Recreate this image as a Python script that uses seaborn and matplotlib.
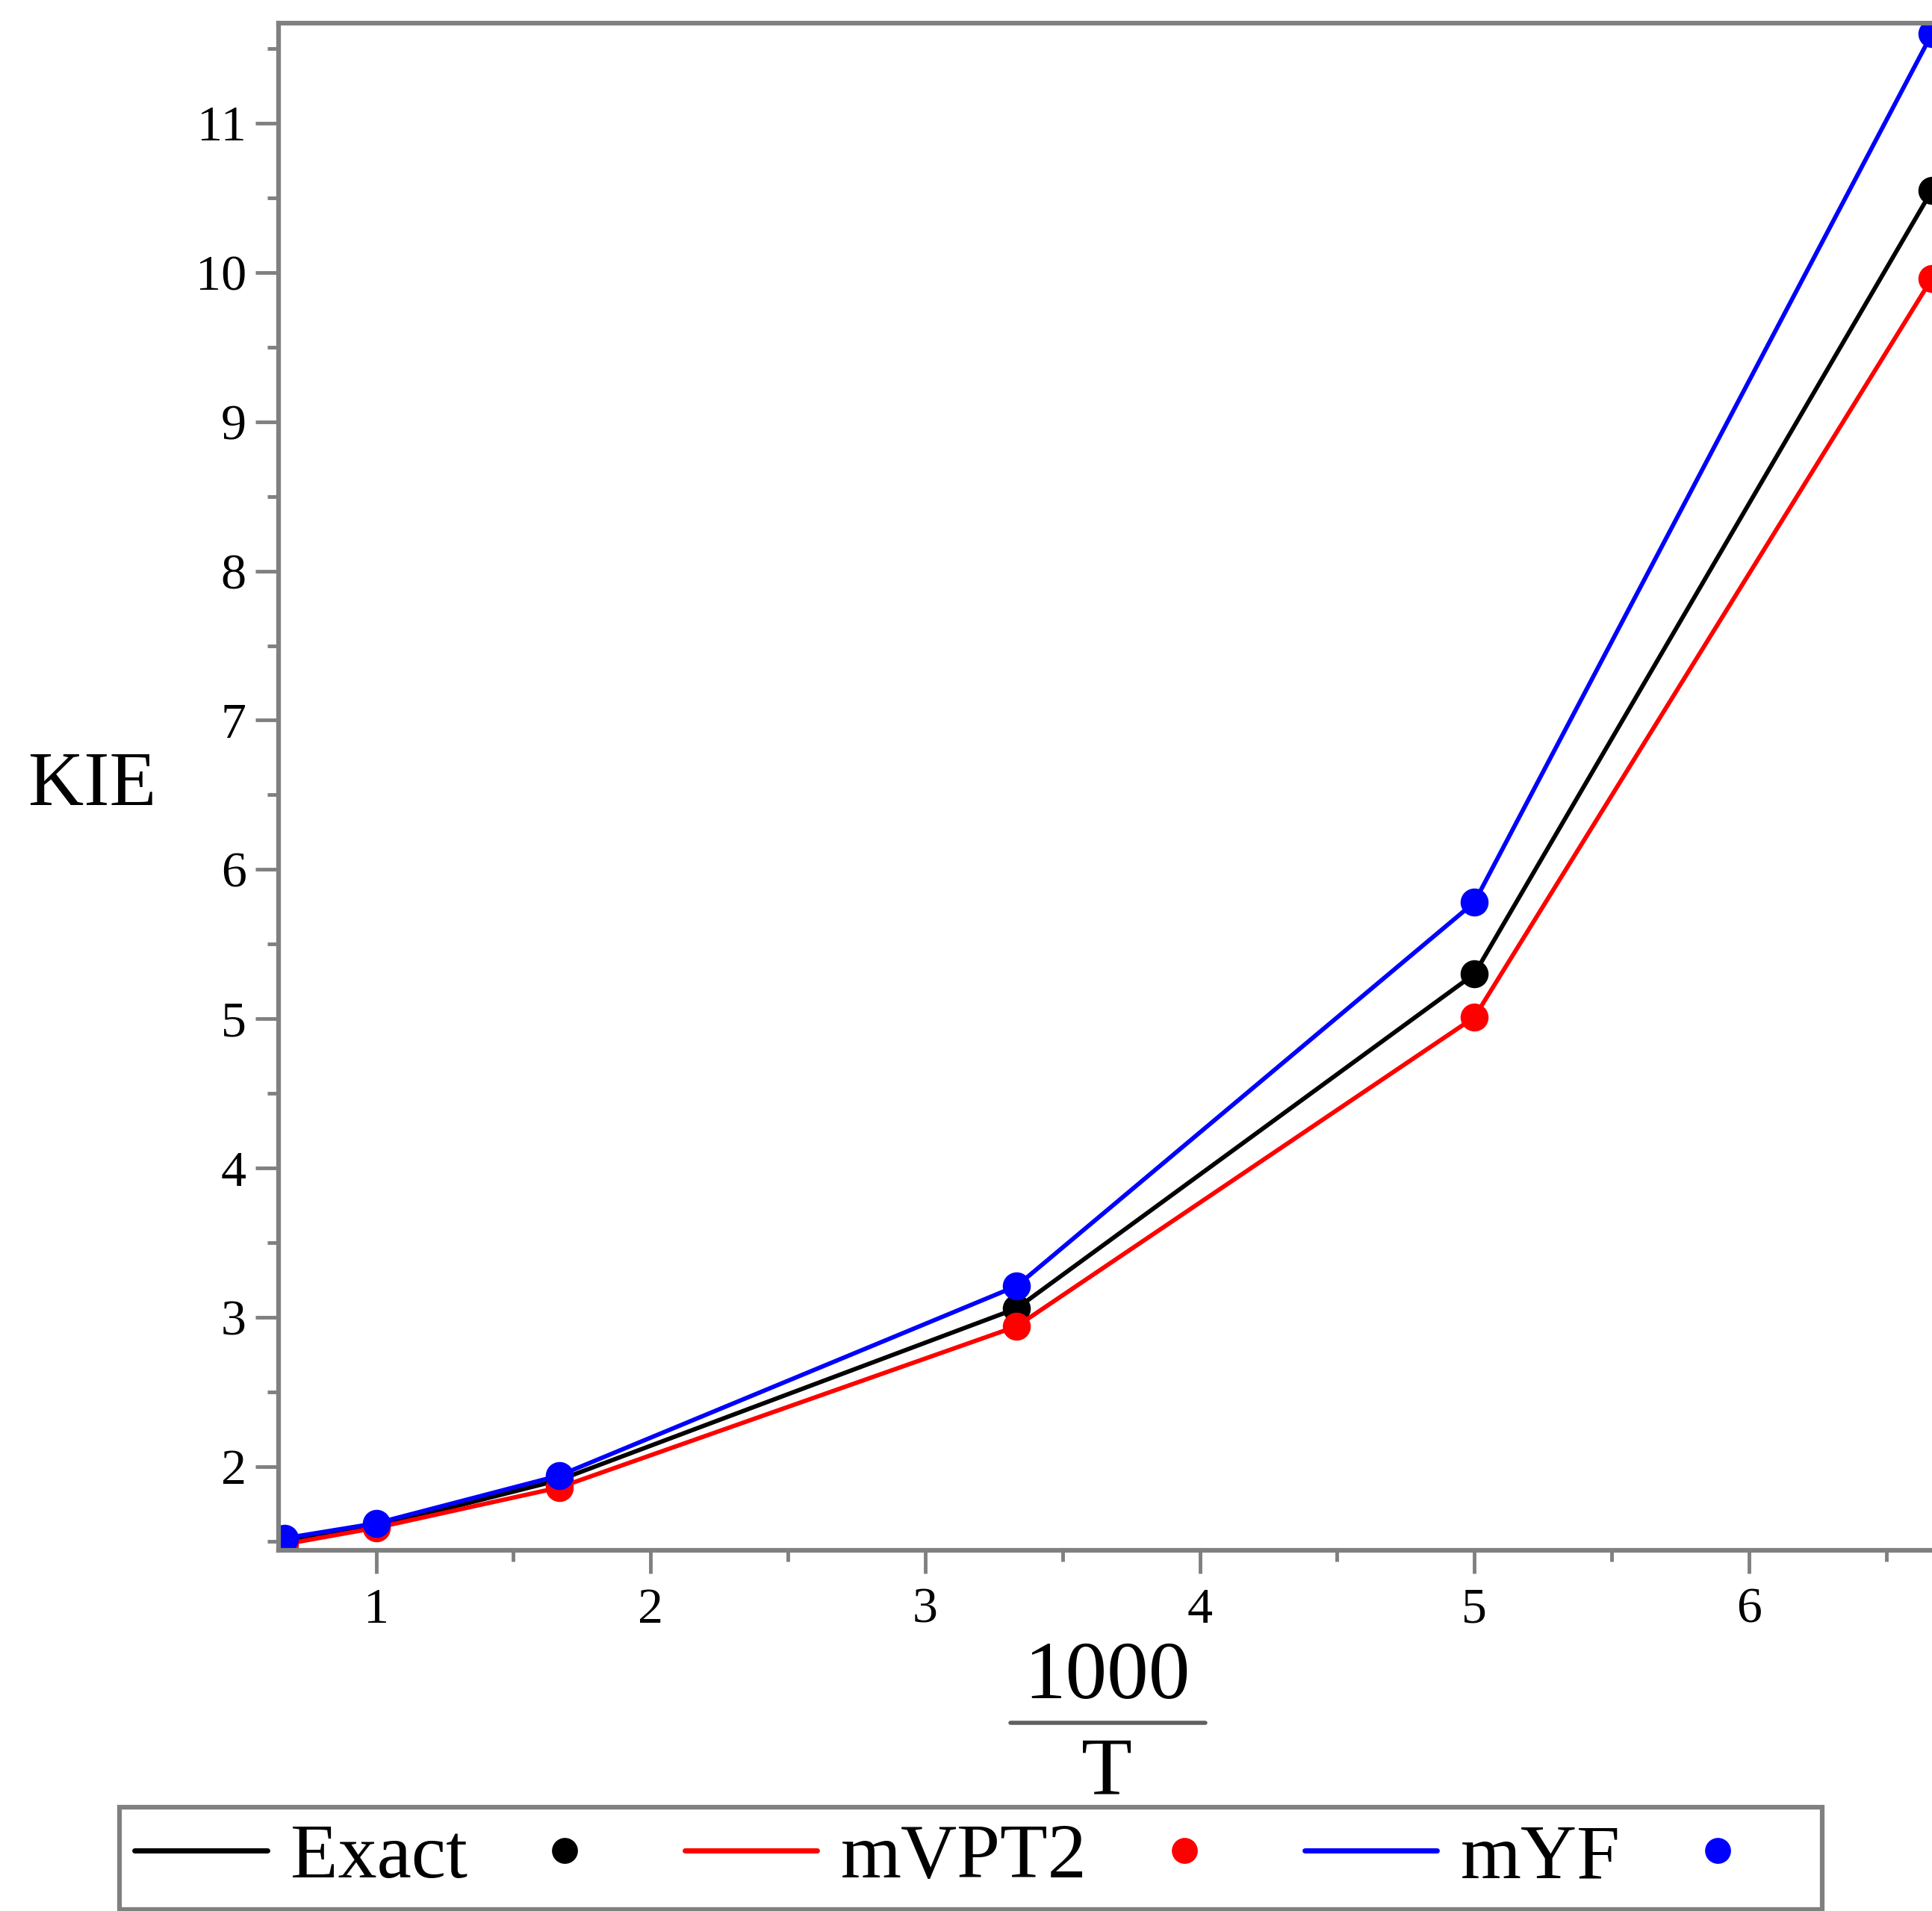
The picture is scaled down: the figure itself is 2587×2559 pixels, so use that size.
import numpy as np
import pandas as pd
import matplotlib
matplotlib.use('Agg')
import matplotlib.pyplot as plt
from matplotlib.lines import Line2D
from matplotlib.ticker import MultipleLocator
import seaborn as sns

# 1000/T for T = 1500, 1000, 600, 300, 200, 150 K
inv_T = [1000 / 1500, 1.0, 1000 / 600, 1000 / 300, 5.0, 1000 / 150]
kie_exact = [1.50, 1.60, 1.91, 3.06, 5.30, 10.55]
kie_mvpt2 = [1.48, 1.59, 1.86, 2.94, 5.01, 9.96]
kie_myf = [1.52, 1.62, 1.94, 3.21, 5.78, 11.60]
methods = ['Exact', 'mVPT2', 'mYF']
colors = ['#000000', '#ff0000', '#0000ff']

df = pd.DataFrame({
    'x': inv_T * 3,
    'KIE': kie_exact + kie_mvpt2 + kie_myf,
    'method': [m for m in methods for _ in inv_T],
})

sns.set_style('white')
plt.rcParams['font.family'] = ['Liberation Serif', 'DejaVu Serif']
plt.rcParams['text.color'] = 'black'
plt.rcParams['axes.labelcolor'] = 'black'

fig = plt.figure(figsize=(25.87, 25.59), dpi=100)
ax = fig.add_axes([0.1442, 0.1888, 0.8558, 0.7991])

sns.lineplot(data=df, x='x', y='KIE', hue='method', palette=dict(zip(methods, colors)),
             marker='o', markersize=27, markeredgewidth=0, linewidth=4.2,
             legend=False, ax=ax)

ax.set_xlim(0.645, 1000 / 150)
ax.set_ylim(1.44, 11.67)
ax.xaxis.set_major_locator(MultipleLocator(1))
ax.xaxis.set_minor_locator(MultipleLocator(0.5))
ax.yaxis.set_major_locator(MultipleLocator(1))
ax.yaxis.set_minor_locator(MultipleLocator(0.5))

grey = '#808080'
for side in ['left', 'bottom', 'top']:
    ax.spines[side].set_color(grey)
    ax.spines[side].set_linewidth(4.5)
ax.spines['right'].set_visible(False)

ax.tick_params(which='major', direction='out', length=22, width=3.5, color=grey,
               labelsize=49, labelcolor='black')
ax.tick_params(axis='y', which='major', pad=9)
ax.tick_params(axis='x', which='major', pad=14)
ax.tick_params(which='minor', direction='out', length=11, width=3.5, color=grey)
ax.tick_params(left=True, bottom=True, which='both')

ax.set_xlabel('')
ax.set_ylabel('KIE', rotation=0, fontsize=74, ha='center', va='center', color='black')
ax.yaxis.set_label_coords(-0.1125, 0.5)

# x label as a stacked fraction 1000 / T
fig.text(0.573, 0.122, '1000', fontsize=80, ha='center', va='center', color='black')
fig.text(0.573, 0.0715, 'T', fontsize=80, ha='center', va='center', color='black')
fig.add_artist(Line2D([0.523, 0.624], [0.0985, 0.0985], color='#606060', linewidth=4,
                      transform=fig.transFigure))

handles, labels = [], []
for m, c in zip(methods, colors):
    handles.append(Line2D([], [], color=c, linewidth=5))
    labels.append(m)
    handles.append(Line2D([], [], color=c, marker='o', linestyle='none',
                          markersize=25, markeredgewidth=0))
    labels.append('')

leg = fig.legend(handles, labels, ncol=6, loc='center', bbox_to_anchor=(0.5025, 0.0275),
                 fontsize=75, frameon=True, fancybox=False, framealpha=1,
                 handlelength=1.7, handletextpad=0.3, columnspacing=0.4,
                 borderpad=0.2, borderaxespad=0)
leg.get_frame().set_edgecolor(grey)
leg.get_frame().set_linewidth(4.5)

fig.savefig('out.png', dpi=100)
